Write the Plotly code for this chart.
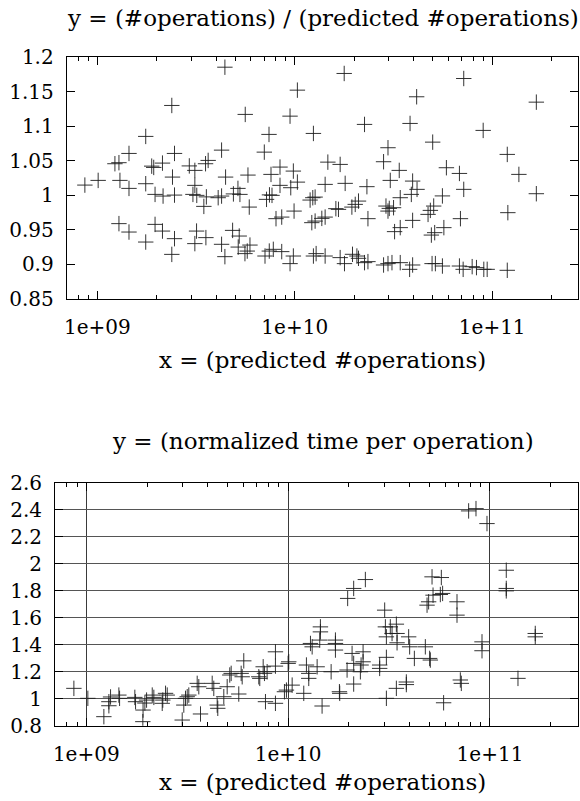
import plotly.graph_objects as go

# ---------------- data ----------------
top_x = [8.65e8, 1.01e9, 1.228e9, 1.287e9, 1.302e9, 1.447e9, 1.447e9, 1.287e9, 1.447e9, 1.759e9,
         1.759e9, 1.759e9, 1.886e9, 1.931e9, 1.961e9, 2.153e9, 2.138e9, 1.961e9, 2.138e9, 2.384e9,
         2.46e9, 2.403e9, 2.46e9, 2.46e9, 2.384e9, 2.924e9, 3.119e9, 3.119e9, 3.05e9, 3.19e9,
         3.567e9, 3.464e9, 3.643e9, 3.533e9, 3.182e9, 3.119e9, 3.548e9, 4.26e9, 4.428e9, 4.845e9,
         5.233e9, 5.172e9, 5.594e9, 5.747e9, 5.931e9, 4.26e9, 4.428e9, 4.464e9, 4.094e9, 4.26e9,
         4.89e9, 5.155e9, 5.276e9, 5.613e9, 5.794e9, 5.882e9, 7.011e9, 7.406e9, 7.58e9, 7.194e9,
         7.447e9, 7.67e9, 7.068e9, 7.43e9, 7.786e9, 8.59e9, 8.035e9, 8.59e9, 8.42e9, 8.42e9,
         9.465e9, 1.031e10, 9.837e9, 9.543e9, 1.031e10, 9.92e9, 9.837e9, 9.465e9, 1.243e10, 1.196e10,
         1.234e10, 1.268e10, 1.22e10, 1.268e10, 1.243e10, 1.283e10, 1.425e10, 1.471e10, 1.425e10, 1.371e10,
         1.425e10, 1.615e10, 1.665e10, 1.698e10, 1.698e10, 1.78e10, 1.8e10, 1.786e10, 1.961e10, 2.064e10,
         2.103e10, 1.947e10, 2.024e10, 2.103e10, 2.256e10, 2.32e10, 2.348e10, 2.256e10, 2.348e10, 2.817e10,
         2.897e10, 3.011e10, 3.165e10, 2.966e10, 2.966e10, 3.046e10, 2.817e10, 2.966e10, 3.107e10, 3.203e10,
         3.382e10, 3.422e10, 3.422e10, 3.422e10, 3.836e10, 3.817e10, 3.894e10, 3.954e10, 3.954e10, 3.954e10,
         4.143e10, 4.162e10, 4.732e10, 4.862e10, 4.919e10, 4.959e10, 4.995e10, 5.054e10, 5.113e10, 5.155e10,
         5.595e10, 5.595e10, 5.69e10, 5.861e10, 6.823e10, 7.175e10, 7.175e10, 6.904e10, 6.823e10, 7.126e10,
         7.916e10, 8.324e10, 9.0e10, 9.066e10, 9.43e10, 1.192e11, 1.2e11, 1.192e11, 1.365e11, 1.673e11,
         1.673e11]
top_y = [1.0145, 1.0213, 1.0455, 1.047, 1.0213, 1.0604, 1.0097, 0.9586, 0.9464, 1.0851,
         1.0165, 0.9319, 1.042, 1.0401, 1.001, 0.9986, 1.0464, 0.9575, 0.9478, 1.13,
         1.0604, 1.0261, 1.0, 0.9368, 0.914, 1.0423, 1.0358, 1.0141, 1.001, 0.9996,
         0.9974, 0.9836, 1.0503, 1.0455, 0.9478, 0.9296, 0.9383, 0.9286, 0.9107, 0.9488,
         0.9406, 0.9246, 0.9151, 0.9188, 0.9275, 1.0652, 1.1855, 1.0261, 0.9962, 0.9986,
         1.0017, 1.0097, 1.001, 1.117, 1.029, 0.9826, 1.0623, 1.088, 1.03, 0.9938,
         1.0003, 0.9996, 0.9116, 0.9188, 0.9213, 0.918, 0.9658, 0.9681, 1.0406, 1.0141,
         1.1145, 1.1522, 1.0348, 1.0107, 1.0188, 0.9768, 0.9116, 0.9006, 1.0894, 0.9928,
         0.9962, 0.9971, 0.96, 0.9623, 0.9116, 0.9151, 1.0155, 1.0478, 0.9681, 0.9662,
         0.9116, 0.9803, 0.9793, 1.0445, 0.9093, 1.1764, 1.017, 0.9006, 0.9141, 0.9116,
         0.9083, 0.9826, 0.9865, 0.9913, 1.1025, 1.0122, 0.9658, 0.902, 0.9035, 1.0484,
         0.9841, 0.9807, 0.9817, 0.9768, 1.0687, 1.0213, 0.8986, 0.9006, 0.902, 0.947,
         1.0358, 0.9962, 0.9528, 0.902, 1.1039, 0.8923, 1.001, 1.0203, 0.9633, 0.8986,
         1.1426, 1.0083, 0.972, 0.9778, 0.942, 0.9006, 1.0768, 0.9841, 0.9455, 0.9006,
         0.9988, 0.8971, 0.9528, 1.0397, 1.0314, 1.1691, 1.0083, 0.9658, 0.8971, 0.8923,
         0.8962, 0.8948, 1.0938, 0.8923, 0.8923, 1.059, 0.9745, 0.8909, 1.03, 1.1348,
         1.002]

bot_x = [8.68e8, 1.018e9, 1.222e9, 1.294e9, 1.294e9, 1.319e9, 1.45e9, 1.462e9, 1.74e9, 1.754e9,
         1.906e9, 1.911e9, 1.951e9, 1.989e9, 2.122e9, 2.161e9, 2.378e9, 2.394e9, 2.47e9, 2.518e9,
         2.987e9, 3.042e9, 3.101e9, 3.162e9, 3.22e9, 3.544e9, 3.609e9, 3.68e9, 4.205e9, 4.282e9,
         4.451e9, 4.482e9, 4.8e9, 4.989e9, 5.139e9, 5.222e9, 5.694e9, 5.852e9, 5.92e9, 6.029e9,
         7.155e9, 7.236e9, 7.522e9, 7.635e9, 7.87e9, 7.722e9, 8.652e9, 8.652e9, 8.652e9, 9.588e9,
         9.808e9, 1.007e10, 1.0e10, 1.047e10, 1.195e10, 1.232e10, 1.265e10, 1.265e10, 1.29e10, 1.315e10,
         1.392e10, 1.445e10, 1.445e10, 1.434e10, 1.473e10, 1.633e10, 1.715e10, 1.715e10, 1.715e10, 1.795e10,
         1.801e10, 1.959e10, 1.972e10, 2.112e10, 2.413e10, 2.074e10, 2.112e10, 2.112e10, 2.28e10, 2.298e10,
         2.351e10, 2.351e10, 2.841e10, 2.841e10, 3.008e10, 3.032e10, 3.067e10, 3.067e10, 3.067e10, 3.208e10,
         3.272e10, 3.437e10, 3.464e10, 3.464e10, 3.437e10, 3.851e10, 3.851e10, 3.954e10, 3.999e10, 4.22e10,
         4.783e10, 5.023e10, 5.064e10, 4.877e10, 4.966e10, 5.163e10, 5.222e10, 5.74e10, 5.675e10, 5.825e10,
         6.864e10, 6.864e10, 5.892e10, 7.129e10, 7.21e10, 7.837e10, 8.524e10, 9.663e10, 9.13e10, 9.13e10,
         1.204e11, 1.204e11, 1.204e11, 1.376e11, 1.676e11, 1.676e11]
bot_y = [1.077, 1.003, 0.867, 0.978, 0.948, 1.013, 1.027, 1.003, 1.010, 0.978,
         0.830, 0.916, 0.968, 0.990, 1.027, 1.010, 0.966, 0.990, 1.040, 1.027,
         0.842, 0.953, 1.003, 1.015, 1.027, 1.114, 1.089, 0.887, 1.114, 1.077,
         0.953, 0.929, 1.015, 1.089, 1.176, 1.188, 1.035, 1.188, 1.163, 1.281,
         1.163, 1.151, 1.237, 1.188, 1.2, 0.978, 1.348, 1.242, 0.966, 1.052,
         1.064, 1.274, 1.262, 1.101, 1.04, 1.25, 1.188, 1.151, 1.41, 1.385,
         1.237, 1.533, 1.496, 1.435, 0.946, 1.2, 1.435, 1.41, 1.361, 1.052,
         1.04, 1.213, 1.744, 1.818, 1.884, 1.336, 1.262, 1.109, 1.2, 1.25,
         1.348, 1.274, 1.25, 1.225, 1.657, 1.533, 1.459, 1.307, 1.003, 1.533,
         1.484, 1.553, 1.484, 1.415, 1.077, 1.124, 1.105, 1.459, 1.385, 1.299,
         1.385, 1.299, 1.287, 1.694, 1.719, 1.904, 1.768, 1.899, 1.773, 1.781,
         1.719, 1.62, 0.970, 1.139, 1.114, 2.393, 2.41, 2.299, 1.422, 1.356,
         1.953, 1.818, 1.8, 1.151, 1.484, 1.459]

x_major = [1e9, 1e10, 1e11]
x_major_text = ["1e+09", "1e+10", "1e+11"]
x_minor = [m * 10 ** e for e in (8, 9, 10, 11) for m in range(2, 10)]
top_yticks = [0.85, 0.9, 0.95, 1.0, 1.05, 1.1, 1.15, 1.2]
top_ytext = ["0.85", "0.9", "0.95", "1", "1.05", "1.1", "1.15", "1.2"]
bot_yticks = [0.8, 1.0, 1.2, 1.4, 1.6, 1.8, 2.0, 2.2, 2.4, 2.6]
bot_ytext = ["0.8", "1", "1.2", "1.4", "1.6", "1.8", "2", "2.2", "2.4", "2.6"]

# ---------------- layout ----------------
W, H = 580, 801
FONT = "DejaVu Serif"
FS = 20
TFS = 23
MARK = dict(symbol="cross-thin", size=11, color="#2a2a2a",
            line=dict(width=1, color="rgba(30,30,30,0.9)"))

fig = go.Figure()
fig.add_trace(go.Scatter(x=top_x, y=top_y, mode="markers", marker=MARK,
                         xaxis="x", yaxis="y", showlegend=False))
fig.add_trace(go.Scatter(x=bot_x, y=bot_y, mode="markers", marker=MARK,
                         xaxis="x2", yaxis="y2", showlegend=False))

def xaxis(dom, anchor, grid):
    return dict(domain=dom, anchor=anchor, type="log", range=[8.845, 11.436],
                automargin=False,
                tickvals=x_major, ticktext=x_major_text, ticks="inside", ticklen=8,
                tickwidth=1, tickcolor="black", showline=True, linecolor="black",
                linewidth=1, mirror="allticks", showgrid=grid, gridcolor="#3a3a3a",
                gridwidth=1, zeroline=False, ticklabelstandoff=10,
                tickfont=dict(family=FONT, size=FS, color="black"),
                minor=dict(tickvals=x_minor, ticks="inside", ticklen=4, tickwidth=1,
                           tickcolor="black", showgrid=False))

def yaxis(dom, anchor, rng, tv, tt, grid):
    return dict(domain=dom, anchor=anchor, range=rng, tickvals=tv, ticktext=tt,
                automargin=False,
                ticks="inside", ticklen=8, tickwidth=1, tickcolor="black",
                showline=True, linecolor="black", linewidth=1, mirror="allticks",
                showgrid=grid, gridcolor="#555555", gridwidth=1, zeroline=False,
                ticklabelstandoff=8,
                tickfont=dict(family=FONT, size=FS, color="black"))

fig.update_layout(
    template="none",
    width=W, height=H, margin=dict(l=0, r=0, t=0, b=0, pad=0), autosize=False,
    paper_bgcolor="white", plot_bgcolor="white",
    xaxis=xaxis([66.7 / W, 578.3 / W], "y", False),
    yaxis=yaxis([1 - 298.5 / H, 1 - 57.2 / H], "x", [0.85, 1.2], top_yticks, top_ytext, False),
    xaxis2=xaxis([55.0 / W, 578.0 / W], "y2", True),
    yaxis2=yaxis([1 - 725.7 / H, 1 - 483.0 / H], "x2", [0.8, 2.6], bot_yticks, bot_ytext, True),
)

def label(text, py):
    fig.add_annotation(text=text, x=322.5 / W, y=1 - py / H, xref="paper", yref="paper",
                       xanchor="center", yanchor="middle", showarrow=False,
                       font=dict(family=FONT, size=TFS, color="black"))

label("y = (#operations) / (predicted #operations)", 18)
label("x = (predicted #operations)", 360)
label("y = (normalized time per operation)", 441)
label("x = (predicted #operations)", 782)

fig.write_html("out.html")
